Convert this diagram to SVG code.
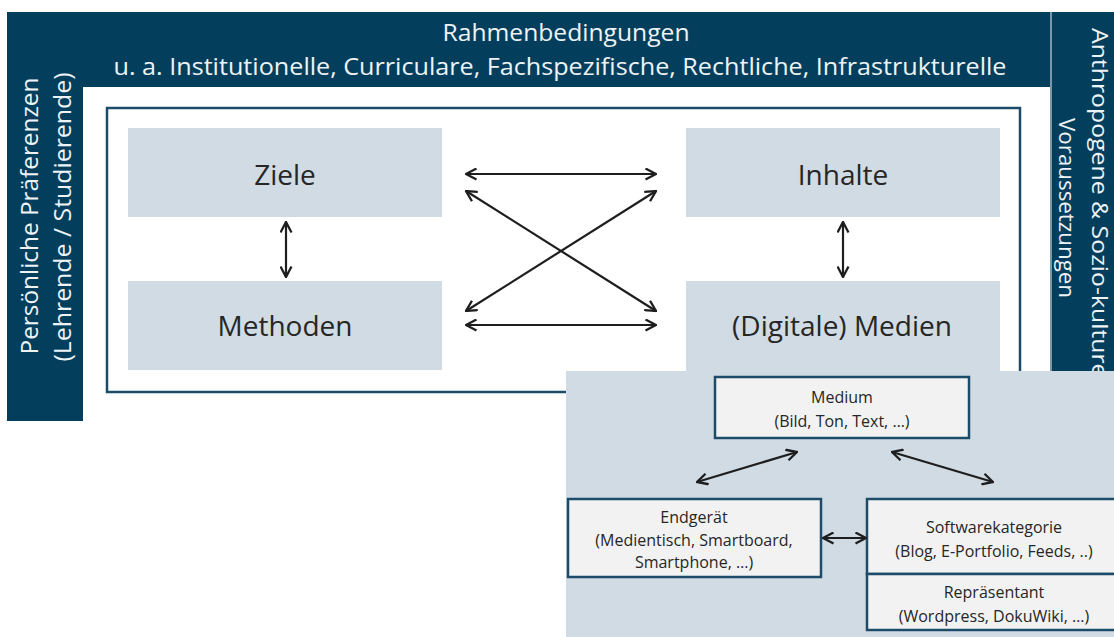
<svg xmlns="http://www.w3.org/2000/svg" width="1114" height="637" viewBox="0 0 1114 637">
  <style>
    .bar { fill: #033f5d; }
    .bartxt { font-family: "Open Sans", "Noto Sans", sans-serif; font-size: 24px; fill: #eef3f6; text-anchor: middle; }
    .bartxt2 { font-family: "Open Sans", "Noto Sans", sans-serif; font-size: 22px; fill: #eef3f6; text-anchor: middle; }
    .core { fill: #d0dbe4; }
    .coretxt { font-family: "Open Sans", "Noto Sans", sans-serif; font-size: 28px; fill: #262626; text-anchor: middle; }
    .sub { fill: #f2f2f2; stroke: #1d4c6a; stroke-width: 2.5; }
    .subtxt { font-family: "Open Sans", "Noto Sans", sans-serif; font-size: 16px; fill: #262626; text-anchor: middle; }
    .arr { stroke: #1e1e1e; stroke-width: 2.2; fill: none; marker-start: url(#ah); marker-end: url(#ah); }
  </style>
  <defs>
    <marker id="ah" viewBox="0 0 13 13" refX="12" refY="6.5" markerWidth="13" markerHeight="13" markerUnits="userSpaceOnUse" orient="auto-start-reverse">
      <path d="M1.5,1 L12,6.5 L1.5,12" fill="none" stroke="#1e1e1e" stroke-width="2.3" stroke-linejoin="miter"/>
    </marker>
  </defs>
  <rect width="1114" height="637" fill="#ffffff"/>

  <g id="rahmenbedingungen">
    <rect class="bar" x="7" y="12" width="1043" height="75"/>
    <text class="bartxt" x="566" y="41" textLength="247" lengthAdjust="spacingAndGlyphs">Rahmenbedingungen</text>
    <text class="bartxt" x="560" y="75" textLength="893" lengthAdjust="spacingAndGlyphs">u. a. Institutionelle, Curriculare, Fachspezifische, Rechtliche, Infrastrukturelle</text>
  </g>

  <g id="praeferenzen">
    <rect class="bar" x="7" y="12" width="76" height="409"/>
    <text class="bartxt" transform="translate(38,216) rotate(-90)" textLength="277" lengthAdjust="spacingAndGlyphs">Persönliche Präferenzen</text>
    <text class="bartxt" transform="translate(71,217) rotate(-90)" textLength="289" lengthAdjust="spacingAndGlyphs">(Lehrende / Studierende)</text>
  </g>

  <g id="voraussetzungen">
    <rect x="1050" y="12" width="2" height="409" fill="#7d97aa"/>
    <rect class="bar" x="1052" y="12" width="62" height="409"/>
    <text class="bartxt2" transform="translate(1092,216) rotate(90)" textLength="376" lengthAdjust="spacingAndGlyphs">Anthropogene &amp; Sozio-kulturelle</text>
    <text class="bartxt2" transform="translate(1059,208) rotate(90)" textLength="180" lengthAdjust="spacingAndGlyphs">Voraussetzungen</text>
  </g>

  <g id="didaktik-rahmen">
    <rect x="107" y="108" width="913" height="284" fill="#ffffff" stroke="#1d4c6a" stroke-width="2.5"/>
  </g>

  <g id="ziele">
    <rect class="core" x="128" y="128" width="314" height="89"/>
    <text class="coretxt" x="285" y="185">Ziele</text>
  </g>
  <g id="inhalte">
    <rect class="core" x="686" y="128" width="314" height="89"/>
    <text class="coretxt" x="843" y="185">Inhalte</text>
  </g>
  <g id="methoden">
    <rect class="core" x="128" y="281" width="314" height="89"/>
    <text class="coretxt" x="285" y="336">Methoden</text>
  </g>
  <g id="medien">
    <rect class="core" x="686" y="281" width="314" height="92"/>
    <rect class="core" x="566" y="371" width="548" height="266"/>
    <text class="coretxt" x="842" y="336">(Digitale) Medien</text>
  </g>

  <g id="medium">
    <rect class="sub" x="715" y="377" width="254" height="61"/>
    <text class="subtxt" x="842" y="403">Medium</text>
    <text class="subtxt" x="842" y="427">(Bild, Ton, Text, …)</text>
  </g>
  <g id="endgeraet">
    <rect class="sub" x="568" y="499" width="253" height="78"/>
    <text class="subtxt" x="694" y="523">Endgerät</text>
    <text class="subtxt" x="694" y="546">(Medientisch, Smartboard,</text>
    <text class="subtxt" x="694" y="568">Smartphone, …)</text>
  </g>
  <g id="softwarekategorie">
    <rect class="sub" x="867" y="499" width="254" height="75"/>
    <text class="subtxt" x="994" y="533">Softwarekategorie</text>
    <text class="subtxt" x="994" y="557">(Blog, E-Portfolio, Feeds, ..)</text>
  </g>
  <g id="repraesentant">
    <rect class="sub" x="867" y="574" width="254" height="56"/>
    <text class="subtxt" x="994" y="598">Repräsentant</text>
    <text class="subtxt" x="994" y="622">(Wordpress, DokuWiki, …)</text>
  </g>

  <g id="connectors">
    <line class="arr" x1="466" y1="174" x2="656" y2="174"/>
    <line class="arr" x1="466" y1="325" x2="656" y2="325"/>
    <line class="arr" x1="466" y1="191" x2="656" y2="311"/>
    <line class="arr" x1="466" y1="311" x2="656" y2="191"/>
    <line class="arr" x1="286" y1="222" x2="286" y2="277"/>
    <line class="arr" x1="843" y1="222" x2="843" y2="277"/>
    <line class="arr" x1="697" y1="482" x2="797" y2="452"/>
    <line class="arr" x1="892" y1="452" x2="993" y2="482"/>
    <line class="arr" x1="823" y1="538" x2="866" y2="538"/>
  </g>
</svg>
